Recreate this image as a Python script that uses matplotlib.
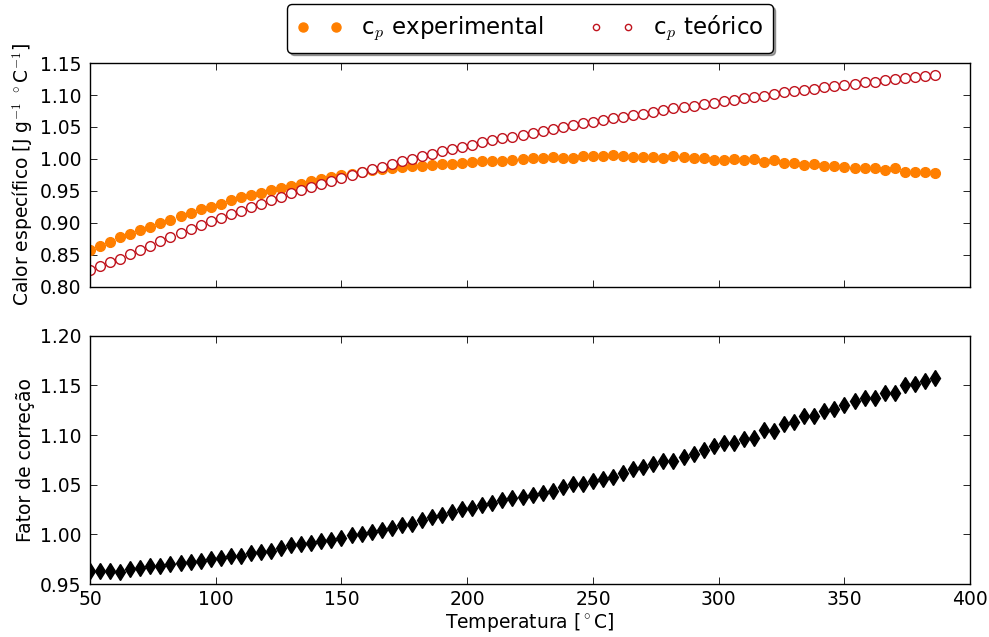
import numpy as np
import matplotlib
matplotlib.use("Agg")
import matplotlib.pyplot as plt

plt.rcParams['font.family'] = ['DejaVu Sans']
plt.rcParams['mathtext.fontset'] = 'cm'
plt.rcParams['font.size'] = 13.5

# temperatura [C], passo de 4 graus
temperatura = list(range(50, 387, 4))

# calor especifico medido
cp_experimental = [
    0.858, 0.864, 0.870, 0.877, 0.882, 0.888, 0.893, 0.900, 0.905, 0.910,
    0.916, 0.921, 0.925, 0.930, 0.935, 0.940, 0.943, 0.947, 0.951, 0.954,
    0.957, 0.961, 0.965, 0.968, 0.971, 0.974, 0.976, 0.979, 0.982, 0.984,
    0.986, 0.987, 0.989, 0.989, 0.990, 0.992, 0.992, 0.993, 0.995, 0.996,
    0.997, 0.997, 0.998, 1.000, 1.001, 1.002, 1.003, 1.002, 1.002, 1.005,
    1.004, 1.005, 1.006, 1.004, 1.003, 1.003, 1.003, 1.002, 1.005, 1.003,
    1.002, 1.001, 0.999, 0.998, 1.000, 0.999, 1.000, 0.995, 0.998, 0.994,
    0.994, 0.990, 0.992, 0.989, 0.989, 0.988, 0.986, 0.985, 0.986, 0.983,
    0.985, 0.980, 0.980, 0.979, 0.978]

# calor especifico da literatura
cp_teorico = [
    0.826, 0.832, 0.838, 0.844, 0.851, 0.858, 0.864, 0.871, 0.878, 0.884,
    0.890, 0.896, 0.902, 0.908, 0.914, 0.919, 0.925, 0.930, 0.935, 0.941,
    0.946, 0.951, 0.956, 0.961, 0.965, 0.970, 0.975, 0.979, 0.984, 0.988,
    0.992, 0.996, 1.000, 1.004, 1.008, 1.012, 1.015, 1.019, 1.022, 1.026,
    1.029, 1.032, 1.035, 1.038, 1.041, 1.044, 1.047, 1.050, 1.053, 1.056,
    1.058, 1.061, 1.064, 1.066, 1.069, 1.071, 1.074, 1.076, 1.079, 1.081,
    1.083, 1.086, 1.088, 1.090, 1.092, 1.095, 1.097, 1.099, 1.102, 1.104,
    1.106, 1.108, 1.110, 1.112, 1.114, 1.116, 1.118, 1.120, 1.121, 1.123,
    1.125, 1.127, 1.128, 1.130, 1.132]

# fator de correcao (teorico / experimental)
fator = [
    0.963, 0.963, 0.963, 0.962, 0.965, 0.966, 0.968, 0.968, 0.970, 0.971,
    0.972, 0.973, 0.975, 0.976, 0.978, 0.978, 0.981, 0.982, 0.983, 0.986,
    0.989, 0.990, 0.991, 0.993, 0.994, 0.996, 0.999, 1.000, 1.002, 1.004,
    1.006, 1.009, 1.011, 1.015, 1.018, 1.020, 1.023, 1.026, 1.027, 1.030,
    1.032, 1.035, 1.037, 1.038, 1.040, 1.042, 1.044, 1.048, 1.051, 1.051,
    1.054, 1.056, 1.058, 1.062, 1.066, 1.068, 1.071, 1.074, 1.074, 1.078,
    1.081, 1.085, 1.089, 1.092, 1.092, 1.096, 1.097, 1.105, 1.104, 1.111,
    1.113, 1.119, 1.119, 1.124, 1.126, 1.130, 1.134, 1.137, 1.137, 1.142,
    1.142, 1.150, 1.151, 1.154, 1.157]

fig = plt.figure(figsize=(9.89, 6.37), dpi=100, facecolor='white')
ax1 = fig.add_axes([0.091, 0.550, 0.890, 0.351])
ax2 = fig.add_axes([0.091, 0.083, 0.890, 0.390], sharex=ax1)

l1, = ax1.plot(temperatura, cp_experimental, 'o', color='#ff7f00', mec='#ff7f00',
               ms=7, label='c$_p$ experimental')
l2, = ax1.plot(temperatura, cp_teorico, 'o', mfc='white', mec='#c0141e', mew=1,
               ms=7, label='c$_p$ teórico')
ax1.set_ylim(0.80, 1.15)
ax1.set_yticks(np.arange(0.80, 1.151, 0.05))
ax1.set_ylabel('Calor específico [J g$^{-1}$ $^\\circ$C$^{-1}$]')
plt.setp(ax1.get_xticklabels(), visible=False)

leg = ax1.legend(loc='lower center', bbox_to_anchor=(0.5, 0.995), ncol=2,
                 numpoints=2, fontsize=16.5, fancybox=True, shadow=True,
                 framealpha=1, edgecolor='black')
leg.get_frame().set_linewidth(1.0)
leg.legend_handles[0].set_markersize(6.5)
leg.legend_handles[1].set_markersize(4.5)

ax2.plot(temperatura, fator, 'd', color='black', ms=8)
ax2.set_xlim(50, 400)
ax2.set_ylim(0.95, 1.20)
ax2.set_yticks(np.arange(0.95, 1.201, 0.05))
ax2.set_xticks(range(50, 401, 50))
ax2.set_xlabel('Temperatura [$^\\circ$C]', labelpad=2)
ax2.set_ylabel('Fator de correção')

for ax in (ax1, ax2):
    ax.yaxis.set_major_formatter(matplotlib.ticker.FormatStrFormatter('%.2f'))
    ax.tick_params(direction='in', top=True, right=True, length=5, width=0.6,
                   labelsize=13.5)
    ax.tick_params(axis='y', pad=6)
    ax.tick_params(axis='x', pad=4)
    for s in ax.spines.values():
        s.set_linewidth(1.0)

fig.savefig('out.png', dpi=100, facecolor='white')
